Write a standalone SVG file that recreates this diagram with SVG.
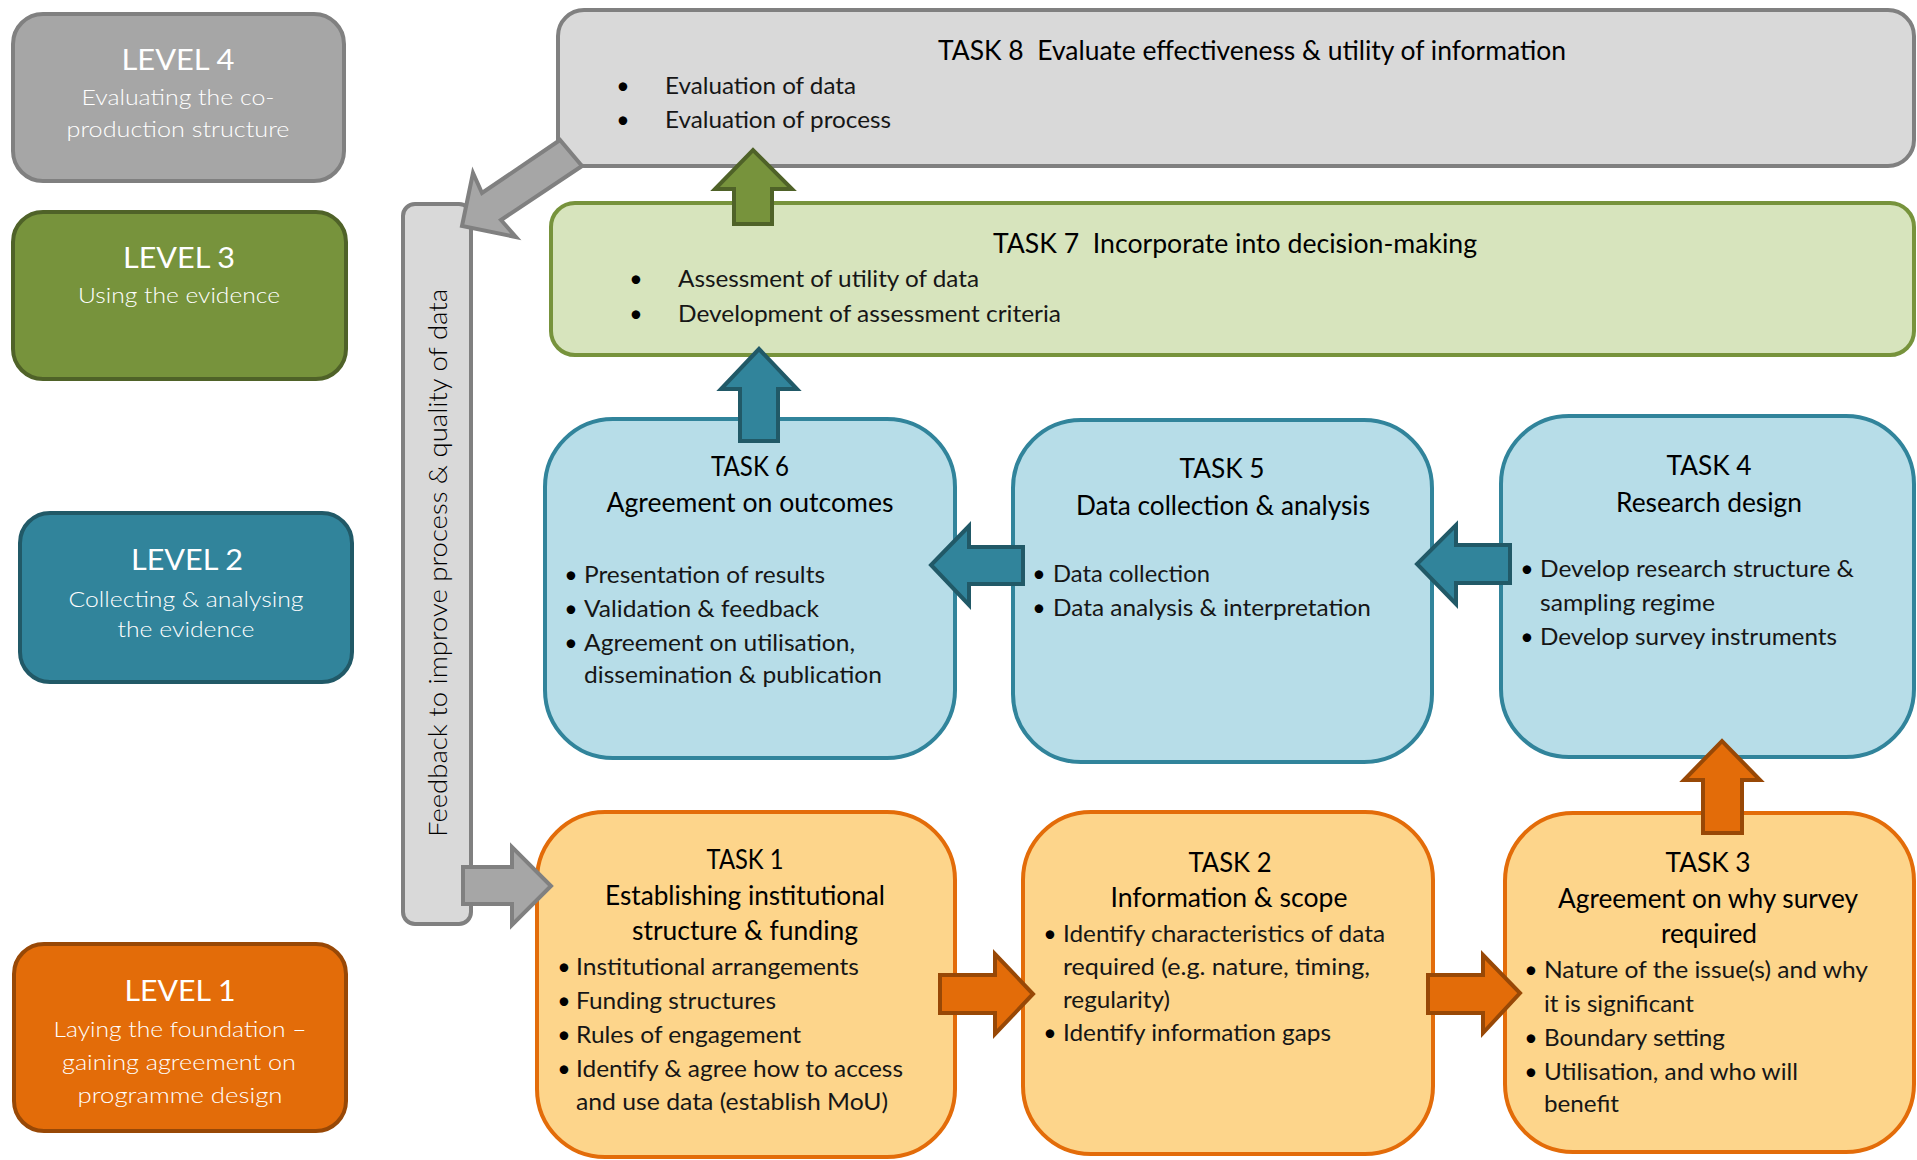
<svg xmlns="http://www.w3.org/2000/svg" width="1917" height="1160" viewBox="0 0 1917 1160">
  <style>
    text { font-family: Lato, "Open Sans", "Liberation Sans", sans-serif; }
    .lvh { font-size: 28px; fill: #ffffff; text-anchor: middle; }
    .lvs { font-size: 22px; font-weight: 300; fill: #ffffff; text-anchor: middle; }
    .tt { font-size: 26px; fill: #000000; text-anchor: middle; }
    .tb { font-size: 23px; font-weight: 400; fill: #161616; }
    .bul { font-size: 23px; fill: #000000; text-anchor: middle; }
    .fb { font-size: 26px; font-weight: 300; fill: #000000; text-anchor: middle; }
    .lv4 { fill: #a6a6a6; stroke: #808080; stroke-width: 4; }
    .lv3 { fill: #77933c; stroke: #4f6228; stroke-width: 4; }
    .lv2 { fill: #31849b; stroke: #215967; stroke-width: 4; }
    .lv1 { fill: #e36c09; stroke: #984806; stroke-width: 4; }
    .t8 { fill: #d9d9d9; stroke: #808080; stroke-width: 4; }
    .t7 { fill: #d7e4bd; stroke: #77933c; stroke-width: 4; }
    .tb2 { fill: #b7dde8; stroke: #31849b; stroke-width: 4; }
    .tb1 { fill: #fdd58b; stroke: #e36c09; stroke-width: 4; }
    .bar { fill: #d9d9d9; stroke: #808080; stroke-width: 4; }
    .ag { fill: #a6a6a6; stroke: #808080; stroke-width: 4; stroke-linejoin: miter; }
    .agr { fill: #77933c; stroke: #4f6228; stroke-width: 4; }
    .atl { fill: #31849b; stroke: #215967; stroke-width: 4; }
    .aor { fill: #e36c09; stroke: #984806; stroke-width: 4; }
  </style>

  <!-- Level labels down the left side -->
  <g id="level4">
    <rect class="lv4" x="13" y="14" width="331" height="167" rx="30"/>
    <text class="lvh" x="178" y="70" textLength="113" lengthAdjust="spacingAndGlyphs">LEVEL 4</text>
    <text class="lvs" x="178" y="105" textLength="193" lengthAdjust="spacingAndGlyphs">Evaluating the co-</text>
    <text class="lvs" x="178" y="137" textLength="223" lengthAdjust="spacingAndGlyphs">production structure</text>
  </g>
  <g id="level3">
    <rect class="lv3" x="13" y="212" width="333" height="167" rx="30"/>
    <text class="lvh" x="179" y="268" textLength="112" lengthAdjust="spacingAndGlyphs">LEVEL 3</text>
    <text class="lvs" x="179" y="303" textLength="202" lengthAdjust="spacingAndGlyphs">Using the evidence</text>
  </g>
  <g id="level2">
    <rect class="lv2" x="20" y="513" width="332" height="169" rx="30"/>
    <text class="lvh" x="187" y="570" textLength="112" lengthAdjust="spacingAndGlyphs">LEVEL 2</text>
    <text class="lvs" x="186" y="607" textLength="235" lengthAdjust="spacingAndGlyphs">Collecting &amp; analysing</text>
    <text class="lvs" x="186" y="637" textLength="137" lengthAdjust="spacingAndGlyphs">the evidence</text>
  </g>
  <g id="level1">
    <rect class="lv1" x="14" y="944" width="332" height="187" rx="30"/>
    <text class="lvh" x="180" y="1001" textLength="111" lengthAdjust="spacingAndGlyphs">LEVEL 1</text>
    <text class="lvs" x="180" y="1037" textLength="253" lengthAdjust="spacingAndGlyphs">Laying the foundation –</text>
    <text class="lvs" x="179" y="1070" textLength="234" lengthAdjust="spacingAndGlyphs">gaining agreement on</text>
    <text class="lvs" x="180" y="1103" textLength="205" lengthAdjust="spacingAndGlyphs">programme design</text>
  </g>

  <!-- Feedback loop bar -->
  <g id="feedback">
    <rect class="bar" x="403" y="204" width="68" height="720" rx="12"/>
    <text class="fb" transform="translate(447,563) rotate(-90)" textLength="548" lengthAdjust="spacingAndGlyphs">Feedback to improve process &amp; quality of data</text>
  </g>

  <!-- Level 4 task -->
  <g id="task8">
    <rect class="t8" x="558" y="10" width="1356" height="156" rx="26"/>
    <text class="tt" x="1252" y="60" textLength="628" lengthAdjust="spacingAndGlyphs" xml:space="preserve">TASK 8  Evaluate effectiveness &amp; utility of information</text>
    <text class="bul" x="623" y="94">•</text>
    <text class="tb" x="665" y="94" textLength="191" lengthAdjust="spacingAndGlyphs">Evaluation of data</text>
    <text class="bul" x="623" y="128">•</text>
    <text class="tb" x="665" y="128" textLength="226" lengthAdjust="spacingAndGlyphs">Evaluation of process</text>
  </g>

  <!-- Level 3 task -->
  <g id="task7">
    <rect class="t7" x="551" y="203" width="1363" height="152" rx="24"/>
    <text class="tt" x="1235" y="253" textLength="484" lengthAdjust="spacingAndGlyphs" xml:space="preserve">TASK 7  Incorporate into decision-making</text>
    <text class="bul" x="636" y="287">•</text>
    <text class="tb" x="678" y="287" textLength="301" lengthAdjust="spacingAndGlyphs">Assessment of utility of data</text>
    <text class="bul" x="636" y="322">•</text>
    <text class="tb" x="678" y="322" textLength="383" lengthAdjust="spacingAndGlyphs">Development of assessment criteria</text>
  </g>

  <!-- Level 2 tasks -->
  <g id="task6">
    <rect class="tb2" x="545" y="419" width="410" height="339" rx="68"/>
    <text class="tt" x="750" y="476" textLength="78" lengthAdjust="spacingAndGlyphs">TASK 6</text>
    <text class="tt" x="750" y="512" textLength="287" lengthAdjust="spacingAndGlyphs">Agreement on outcomes</text>
    <text class="bul" x="571" y="583">•</text>
    <text class="tb" x="584" y="583" textLength="241" lengthAdjust="spacingAndGlyphs">Presentation of results</text>
    <text class="bul" x="571" y="617">•</text>
    <text class="tb" x="584" y="617" textLength="235" lengthAdjust="spacingAndGlyphs">Validation &amp; feedback</text>
    <text class="bul" x="571" y="651">•</text>
    <text class="tb" x="584" y="651" textLength="271" lengthAdjust="spacingAndGlyphs">Agreement on utilisation,</text>
    <text class="tb" x="584" y="683" textLength="298" lengthAdjust="spacingAndGlyphs">dissemination &amp; publication</text>
  </g>
  <g id="task5">
    <rect class="tb2" x="1013" y="420" width="419" height="342" rx="68"/>
    <text class="tt" x="1222" y="478" textLength="85" lengthAdjust="spacingAndGlyphs">TASK 5</text>
    <text class="tt" x="1223" y="515" textLength="294" lengthAdjust="spacingAndGlyphs">Data collection &amp; analysis</text>
    <text class="bul" x="1039" y="582">•</text>
    <text class="tb" x="1053" y="582" textLength="157" lengthAdjust="spacingAndGlyphs">Data collection</text>
    <text class="bul" x="1039" y="616">•</text>
    <text class="tb" x="1053" y="616" textLength="318" lengthAdjust="spacingAndGlyphs">Data analysis &amp; interpretation</text>
  </g>
  <g id="task4">
    <rect class="tb2" x="1501" y="416" width="413" height="341" rx="68"/>
    <text class="tt" x="1709" y="475" textLength="85" lengthAdjust="spacingAndGlyphs">TASK 4</text>
    <text class="tt" x="1709" y="512" textLength="186" lengthAdjust="spacingAndGlyphs">Research design</text>
    <text class="bul" x="1527" y="577">•</text>
    <text class="tb" x="1540" y="577" textLength="314" lengthAdjust="spacingAndGlyphs">Develop research structure &amp;</text>
    <text class="tb" x="1540" y="611" textLength="175" lengthAdjust="spacingAndGlyphs">sampling regime</text>
    <text class="bul" x="1527" y="645">•</text>
    <text class="tb" x="1540" y="645" textLength="297" lengthAdjust="spacingAndGlyphs">Develop survey instruments</text>
  </g>

  <!-- Level 1 tasks -->
  <g id="task1">
    <rect class="tb1" x="537" y="812" width="418" height="345" rx="68"/>
    <text class="tt" x="745" y="869" textLength="77" lengthAdjust="spacingAndGlyphs">TASK 1</text>
    <text class="tt" x="745" y="905" textLength="280" lengthAdjust="spacingAndGlyphs">Establishing institutional</text>
    <text class="tt" x="745" y="940" textLength="226" lengthAdjust="spacingAndGlyphs">structure &amp; funding</text>
    <text class="bul" x="564" y="975">•</text>
    <text class="tb" x="576" y="975" textLength="283" lengthAdjust="spacingAndGlyphs">Institutional arrangements</text>
    <text class="bul" x="564" y="1009">•</text>
    <text class="tb" x="576" y="1009" textLength="200" lengthAdjust="spacingAndGlyphs">Funding structures</text>
    <text class="bul" x="564" y="1043">•</text>
    <text class="tb" x="576" y="1043" textLength="225" lengthAdjust="spacingAndGlyphs">Rules of engagement</text>
    <text class="bul" x="564" y="1077">•</text>
    <text class="tb" x="576" y="1077" textLength="327" lengthAdjust="spacingAndGlyphs">Identify &amp; agree how to access</text>
    <text class="tb" x="576" y="1110" textLength="312" lengthAdjust="spacingAndGlyphs">and use data (establish MoU)</text>
  </g>
  <g id="task2">
    <rect class="tb1" x="1023" y="812" width="410" height="342" rx="68"/>
    <text class="tt" x="1230" y="872" textLength="83" lengthAdjust="spacingAndGlyphs">TASK 2</text>
    <text class="tt" x="1229" y="907" textLength="237" lengthAdjust="spacingAndGlyphs">Information &amp; scope</text>
    <text class="bul" x="1050" y="942">•</text>
    <text class="tb" x="1063" y="942" textLength="322" lengthAdjust="spacingAndGlyphs">Identify characteristics of data</text>
    <text class="tb" x="1063" y="975" textLength="307" lengthAdjust="spacingAndGlyphs">required (e.g. nature, timing,</text>
    <text class="tb" x="1063" y="1008" textLength="107" lengthAdjust="spacingAndGlyphs">regularity)</text>
    <text class="bul" x="1050" y="1041">•</text>
    <text class="tb" x="1063" y="1041" textLength="268" lengthAdjust="spacingAndGlyphs">Identify information gaps</text>
  </g>
  <g id="task3">
    <rect class="tb1" x="1505" y="813" width="409" height="339" rx="68"/>
    <text class="tt" x="1708" y="872" textLength="85" lengthAdjust="spacingAndGlyphs">TASK 3</text>
    <text class="tt" x="1708" y="908" textLength="300" lengthAdjust="spacingAndGlyphs">Agreement on why survey</text>
    <text class="tt" x="1709" y="943" textLength="96" lengthAdjust="spacingAndGlyphs">required</text>
    <text class="bul" x="1531" y="978">•</text>
    <text class="tb" x="1544" y="978" textLength="324" lengthAdjust="spacingAndGlyphs">Nature of the issue(s) and why</text>
    <text class="tb" x="1544" y="1012" textLength="150" lengthAdjust="spacingAndGlyphs">it is significant</text>
    <text class="bul" x="1531" y="1046">•</text>
    <text class="tb" x="1544" y="1046" textLength="181" lengthAdjust="spacingAndGlyphs">Boundary setting</text>
    <text class="bul" x="1531" y="1080">•</text>
    <text class="tb" x="1544" y="1080" textLength="254" lengthAdjust="spacingAndGlyphs">Utilisation, and who will</text>
    <text class="tb" x="1544" y="1112" textLength="75" lengthAdjust="spacingAndGlyphs">benefit</text>
  </g>

  <!-- Block arrows linking the tasks -->
  <g id="connectors">
    <polygon class="aor" points="940,975 995,975 995,954 1033,994 995,1034 995,1013 940,1013"/>
    <polygon class="aor" points="1428,975 1483,975 1483,955 1520,993 1483,1033 1483,1013 1428,1013"/>
    <polygon class="aor" points="1703,833 1703,780 1684,780 1722,741 1760,780 1742,780 1742,833"/>
    <polygon class="atl" points="1510,545 1456,545 1456,525 1417,564 1456,604 1456,583 1510,583"/>
    <polygon class="atl" points="1023,547 969,547 969,526 931,565 969,605 969,584 1023,584"/>
    <polygon class="atl" points="740,441 740,389 721,389 759,349 797,389 778,389 778,441"/>
    <polygon class="agr" points="734,224 734,189 715,189 753,150 792,189 772,189 772,224"/>
    <polygon class="ag" points="560,140 482,193 473,173 462,226 516,237 501,220 582,166"/>
    <polygon class="ag" points="463,867 512,867 512,847 551,886 512,925 512,904 463,904"/>
  </g>
</svg>
